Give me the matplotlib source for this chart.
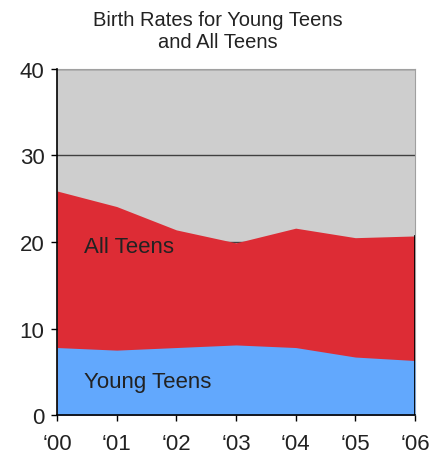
import matplotlib
matplotlib.use("Agg")
import matplotlib.pyplot as plt

years = ["\u201800", "\u201801", "\u201802", "\u201803", "\u201804", "\u201805", "\u201806"]
all_teens = [25.9, 24.1, 21.4, 19.9, 21.6, 20.5, 20.7]
young_teens = [7.8, 7.5, 7.8, 8.1, 7.8, 6.7, 6.3]
yticks = [0, 10, 20, 30, 40]

plt.rcParams['font.family'] = ['Liberation Sans', 'DejaVu Sans']

fig = plt.figure(figsize=(4.35, 4.56), dpi=100)
ax = fig.add_axes([0.131, 0.0877, 0.823, 0.7588])
x = list(range(len(years)))
ax.set_facecolor('#cecece')
for yv in yticks[1:]:
    ax.axhline(yv, color='#404040', lw=1.0, zorder=1)
ax.fill_between(x, 0, all_teens, color='#dd2c35', lw=0, zorder=2)
ax.fill_between(x, 0, young_teens, color='#62a8fd', lw=0, zorder=3)
ax.plot([x[-1], x[-1]], [0, all_teens[-1]], color='black', lw=2, zorder=4)

ax.set_xlim(0, len(years) - 1)
ax.set_ylim(0, 40)
ax.set_yticks(yticks)
ax.set_xticks(x)
ax.set_xticklabels(years)
ax.tick_params(axis='both', labelsize=16, color='black', length=4, width=1, labelcolor='#222222')
ax.tick_params(axis='y', pad=5)
ax.tick_params(axis='x', pad=9)
for s in ['top', 'right']:
    ax.spines[s].set_color('#a0a0a0')
    ax.spines[s].set_linewidth(0.8)
for s in ['left', 'bottom']:
    ax.spines[s].set_color('black')
    ax.spines[s].set_linewidth(1.2)
    ax.spines[s].set_zorder(5)

ax.text(0.45, 18.9, 'All Teens', fontsize=16, color='#222222', zorder=6)
ax.text(0.45, 3.2, 'Young Teens', fontsize=16, color='#222222', zorder=6)
fig.text(0.5, 0.975, 'Birth Rates for Young Teens\nand All Teens', ha='center', va='top',
         fontsize=14.5, linespacing=1.2, color='#222222')

fig.savefig('out.png', dpi=100)
